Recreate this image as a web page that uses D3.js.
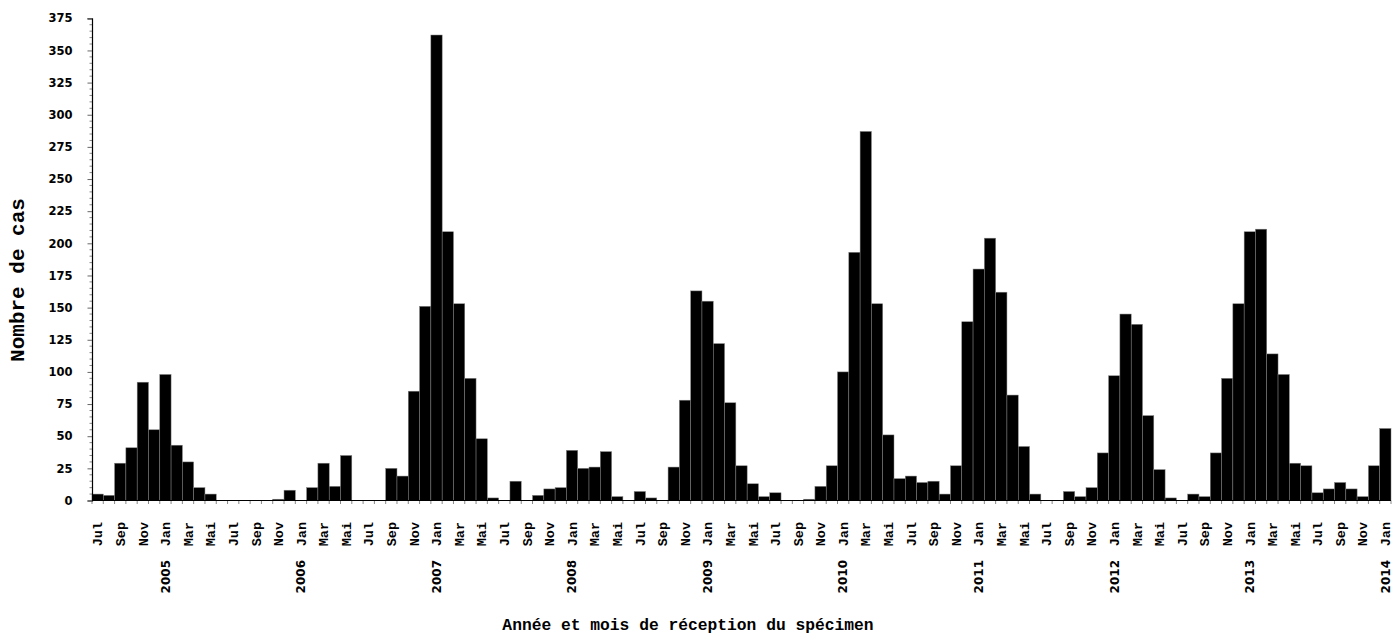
<!DOCTYPE html>
<html>
<head>
<meta charset="utf-8">
<script src="https://cdn.jsdelivr.net/npm/d3@7"></script>
<style>
  html, body { margin: 0; padding: 0; background: #fff; }
  svg { display: block; }
</style>
</head>
<body>
<svg id="chart" width="1400" height="641"></svg>
<script>
// ---- Data ----
const monthNames = ["Jan","Fév","Mar","Avr","Mai","Juin","Jul","Aoû","Sep","Oct","Nov","Déc"];
const shownMonths = ["Jul","Sep","Nov","Jan","Mar","Mai"];
const startYear = 2004, startMonthIndex = 6; // Jul 2004
const cases = [
  5, 4, 29, 41, 92, 55, 98, 43, 30, 10, 5, 0,        // Jul 2004 - Jun 2005
  0, 0, 0, 0, 1, 8, 0, 10, 29, 11, 35, 0,            // Jul 2005 - Jun 2006
  0, 0, 25, 19, 85, 151, 362, 209, 153, 95, 48, 2,   // Jul 2006 - Jun 2007
  0, 15, 0, 4, 9, 10, 39, 25, 26, 38, 3, 0,          // Jul 2007 - Jun 2008
  7, 2, 0, 26, 78, 163, 155, 122, 76, 27, 13, 3,     // Jul 2008 - Jun 2009
  6, 0, 0, 1, 11, 27, 100, 193, 287, 153, 51, 17,    // Jul 2009 - Jun 2010
  19, 14, 15, 5, 27, 139, 180, 204, 162, 82, 42, 5,  // Jul 2010 - Jun 2011
  0, 0, 7, 3, 10, 37, 97, 145, 137, 66, 24, 2,       // Jul 2011 - Jun 2012
  0, 5, 3, 37, 95, 153, 209, 211, 114, 98, 29, 27,   // Jul 2012 - Jun 2013
  6, 9, 14, 9, 3, 27, 56                             // Jul 2013 - Jan 2014
];
const yTicks = [0, 25, 50, 75, 100, 125, 150, 175, 200, 225, 250, 275, 300, 325, 350, 375];
const yTitle = "Nombre de cas";
const xTitle = "Année et mois de réception du spécimen";

const categories = cases.map((v, i) => {
  const m = (startMonthIndex + i) % 12;
  const yr = startYear + Math.floor((startMonthIndex + i) / 12);
  return { key: yr + "-" + (m + 1), month: monthNames[m], year: yr, value: v, m: m };
});

// ---- Layout ----
const svg = d3.select("#chart");
const plotLeft = 92, plotRight = 1391, plotTop = 18.3, plotBottom = 500.5;

const x = d3.scaleBand().domain(categories.map(d => d.key)).range([plotLeft, plotRight]).padding(0);
const y = d3.scaleLinear().domain([0, 375]).range([plotBottom, plotTop]);

// Bars
svg.append("g").selectAll("rect").data(categories).join("rect")
  .attr("x", d => x(d.key))
  .attr("y", d => y(d.value))
  .attr("width", x.bandwidth())
  .attr("height", d => y(0) - y(d.value))
  .attr("fill", "#000")
  .attr("stroke", "#808080")
  .attr("stroke-width", 0.5);

// X ticks at bar boundaries
const bounds = categories.map(d => x(d.key)).concat([plotRight]);
svg.append("g").selectAll("line").data(bounds).join("line")
  .attr("x1", d => d).attr("x2", d => d)
  .attr("y1", plotBottom).attr("y2", plotBottom + 3.5)
  .attr("stroke", "#888").attr("stroke-width", 1);

// X axis baseline
svg.append("line").attr("x1", plotLeft).attr("x2", plotRight)
  .attr("y1", plotBottom).attr("y2", plotBottom)
  .attr("stroke", "#000").attr("stroke-width", 1.2);

// Y axis (major + minor ticks)
const minor = d3.range(0, 376, 5).filter(v => v % 25 !== 0);
svg.append("g").selectAll("line").data(minor).join("line")
  .attr("x1", plotLeft - 2.5).attr("x2", plotLeft)
  .attr("y1", d => y(d)).attr("y2", d => y(d))
  .attr("stroke", "#888").attr("stroke-width", 1);

const yAxis = d3.axisLeft(y).tickValues(yTicks).tickSize(4.5).tickPadding(15).tickFormat(d3.format("d"));
const gy = svg.append("g").attr("transform", `translate(${plotLeft},0)`).call(yAxis);
gy.select(".domain").attr("stroke", "#000").attr("stroke-width", 1.2);
gy.selectAll(".tick line").attr("stroke", "#666");
gy.selectAll(".tick text")
  .attr("font-family", "'DejaVu Sans', Verdana, sans-serif")
  .attr("font-weight", "bold").attr("font-size", 11.5).attr("fill", "#000");

// Month labels (every other month starting at Jul)
const labelled = categories.filter(d => shownMonths.includes(d.month));
svg.append("g").selectAll("text").data(labelled).join("text")
  .attr("transform", d => `translate(${x(d.key) + x.bandwidth() / 2},522) rotate(-90)`)
  .attr("text-anchor", "end")
  .attr("dy", "0.35em")
  .attr("font-family", "'Liberation Mono', 'Courier New', monospace")
  .attr("font-weight", "bold").attr("font-size", 13.5)
  .text(d => d.month);

// Year labels
const yearLabelled = categories.filter(d => d.m === 0);
svg.append("g").selectAll("text").data(yearLabelled).join("text")
  .attr("transform", d => `translate(${x(d.key) + x.bandwidth() / 2},560) rotate(-90)`)
  .attr("text-anchor", "end")
  .attr("dy", "0.36em")
  .attr("font-family", "'DejaVu Sans', Verdana, sans-serif")
  .attr("font-weight", "bold").attr("font-size", 12)
  .text(d => d.year);

// Axis titles
svg.append("text")
  .attr("x", 688).attr("y", 630)
  .attr("text-anchor", "middle")
  .attr("font-family", "'Liberation Mono', 'Courier New', monospace")
  .attr("font-weight", "bold").attr("font-size", 16.3)
  .text(xTitle);

svg.append("text")
  .attr("transform", "translate(17,280) rotate(-90)")
  .attr("text-anchor", "middle")
  .attr("dy", "0.35em")
  .attr("font-family", "'Liberation Mono', 'Courier New', monospace")
  .attr("font-weight", "bold").attr("font-size", 21)
  .text(yTitle);
</script>
</body>
</html>
